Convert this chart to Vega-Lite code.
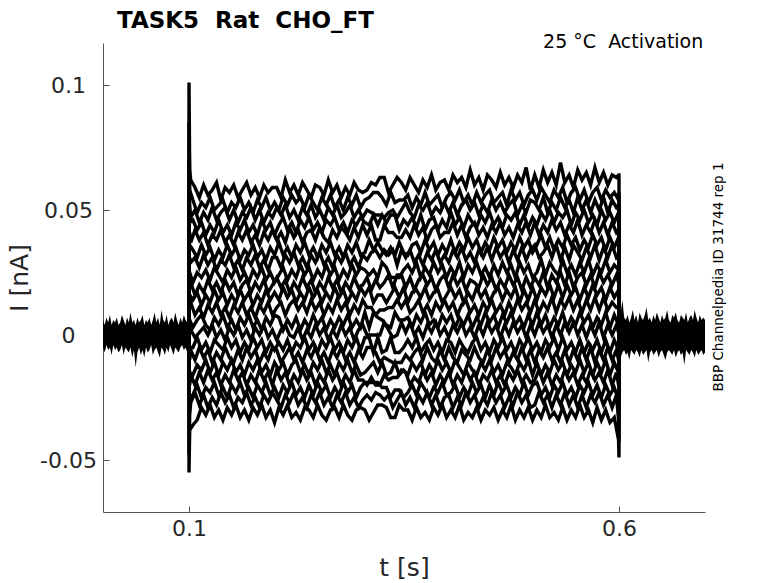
{
  "$schema": "https://vega.github.io/schema/vega-lite/v6.json",
  "width": 602,
  "height": 469,
  "autosize": {"type": "none"},
  "padding": {"left": 103, "top": 43, "right": 73, "bottom": 71},
  "background": "white",
  "config": {"view": {"stroke": null}, "font": "DejaVu Sans"},
  "title": {
    "text": "TASK5\u00a0 Rat\u00a0 CHO_FT",
    "anchor": "start",
    "frame": "group",
    "dx": 14,
    "dy": 24,
    "font": "DejaVu Sans",
    "fontSize": 23,
    "fontWeight": "bold",
    "color": "#000000",
    "baseline": "alphabetic",
    "offset": 6
  },
  "datasets": {
    "band": [
      {"seg":"pre","t":0,"hi":0.006,"lo":-0.005},
      {"seg":"pre","t":0.002,"hi":0.004,"lo":-0.007},
      {"seg":"pre","t":0.004,"hi":0.007,"lo":-0.004},
      {"seg":"pre","t":0.006,"hi":0.005,"lo":-0.006},
      {"seg":"pre","t":0.008,"hi":0.008,"lo":-0.005},
      {"seg":"pre","t":0.01,"hi":0.004,"lo":-0.008},
      {"seg":"pre","t":0.012,"hi":0.006,"lo":-0.004},
      {"seg":"pre","t":0.014,"hi":0.005,"lo":-0.006},
      {"seg":"pre","t":0.016,"hi":0.007,"lo":-0.005},
      {"seg":"pre","t":0.018,"hi":0.004,"lo":-0.007},
      {"seg":"pre","t":0.02,"hi":0.005,"lo":-0.006},
      {"seg":"pre","t":0.022,"hi":0.008,"lo":-0.004},
      {"seg":"pre","t":0.024,"hi":0.006,"lo":-0.008},
      {"seg":"pre","t":0.026,"hi":0.004,"lo":-0.005},
      {"seg":"pre","t":0.028,"hi":0.007,"lo":-0.006},
      {"seg":"pre","t":0.03,"hi":0.005,"lo":-0.007},
      {"seg":"pre","t":0.032,"hi":0.009,"lo":-0.005},
      {"seg":"pre","t":0.034,"hi":0.005,"lo":-0.009},
      {"seg":"pre","t":0.036,"hi":0.006,"lo":-0.006},
      {"seg":"pre","t":0.038,"hi":0.004,"lo":-0.013},
      {"seg":"pre","t":0.04,"hi":0.007,"lo":-0.007},
      {"seg":"pre","t":0.042,"hi":0.005,"lo":-0.005},
      {"seg":"pre","t":0.044,"hi":0.006,"lo":-0.008},
      {"seg":"pre","t":0.046,"hi":0.008,"lo":-0.006},
      {"seg":"pre","t":0.048,"hi":0.004,"lo":-0.009},
      {"seg":"pre","t":0.05,"hi":0.006,"lo":-0.005},
      {"seg":"pre","t":0.052,"hi":0.005,"lo":-0.007},
      {"seg":"pre","t":0.054,"hi":0.007,"lo":-0.006},
      {"seg":"pre","t":0.056,"hi":0.004,"lo":-0.004},
      {"seg":"pre","t":0.058,"hi":0.006,"lo":-0.008},
      {"seg":"pre","t":0.06,"hi":0.009,"lo":-0.006},
      {"seg":"pre","t":0.062,"hi":0.005,"lo":-0.005},
      {"seg":"pre","t":0.064,"hi":0.007,"lo":-0.007},
      {"seg":"pre","t":0.066,"hi":0.004,"lo":-0.009},
      {"seg":"pre","t":0.068,"hi":0.01,"lo":-0.005},
      {"seg":"pre","t":0.07,"hi":0.006,"lo":-0.006},
      {"seg":"pre","t":0.072,"hi":0.005,"lo":-0.008},
      {"seg":"pre","t":0.074,"hi":0.008,"lo":-0.005},
      {"seg":"pre","t":0.076,"hi":0.004,"lo":-0.007},
      {"seg":"pre","t":0.078,"hi":0.006,"lo":-0.004},
      {"seg":"pre","t":0.08,"hi":0.007,"lo":-0.006},
      {"seg":"pre","t":0.082,"hi":0.005,"lo":-0.008},
      {"seg":"pre","t":0.084,"hi":0.009,"lo":-0.005},
      {"seg":"pre","t":0.086,"hi":0.006,"lo":-0.006},
      {"seg":"pre","t":0.088,"hi":0.004,"lo":-0.007},
      {"seg":"pre","t":0.09,"hi":0.007,"lo":-0.005},
      {"seg":"pre","t":0.092,"hi":0.005,"lo":-0.004},
      {"seg":"pre","t":0.094,"hi":0.008,"lo":-0.006},
      {"seg":"pre","t":0.096,"hi":0.006,"lo":-0.005},
      {"seg":"pre","t":0.098,"hi":0.005,"lo":-0.007},
      {"seg":"pre","t":0.0998,"hi":0.006,"lo":-0.005},
      {"seg":"post","t":0.6004,"hi":0.005,"lo":-0.006},
      {"seg":"post","t":0.602,"hi":0.009,"lo":-0.009},
      {"seg":"post","t":0.604,"hi":0.014,"lo":-0.007},
      {"seg":"post","t":0.606,"hi":0.007,"lo":-0.006},
      {"seg":"post","t":0.608,"hi":0.006,"lo":-0.008},
      {"seg":"post","t":0.61,"hi":0.008,"lo":-0.007},
      {"seg":"post","t":0.612,"hi":0.005,"lo":-0.01},
      {"seg":"post","t":0.614,"hi":0.007,"lo":-0.006},
      {"seg":"post","t":0.616,"hi":0.01,"lo":-0.007},
      {"seg":"post","t":0.618,"hi":0.006,"lo":-0.008},
      {"seg":"post","t":0.62,"hi":0.008,"lo":-0.006},
      {"seg":"post","t":0.622,"hi":0.005,"lo":-0.007},
      {"seg":"post","t":0.624,"hi":0.009,"lo":-0.009},
      {"seg":"post","t":0.626,"hi":0.007,"lo":-0.006},
      {"seg":"post","t":0.628,"hi":0.006,"lo":-0.008},
      {"seg":"post","t":0.63,"hi":0.008,"lo":-0.007},
      {"seg":"post","t":0.632,"hi":0.011,"lo":-0.006},
      {"seg":"post","t":0.634,"hi":0.006,"lo":-0.011},
      {"seg":"post","t":0.636,"hi":0.007,"lo":-0.007},
      {"seg":"post","t":0.638,"hi":0.005,"lo":-0.006},
      {"seg":"post","t":0.64,"hi":0.008,"lo":-0.008},
      {"seg":"post","t":0.642,"hi":0.006,"lo":-0.007},
      {"seg":"post","t":0.644,"hi":0.009,"lo":-0.006},
      {"seg":"post","t":0.646,"hi":0.007,"lo":-0.009},
      {"seg":"post","t":0.648,"hi":0.005,"lo":-0.007},
      {"seg":"post","t":0.65,"hi":0.008,"lo":-0.006},
      {"seg":"post","t":0.652,"hi":0.006,"lo":-0.008},
      {"seg":"post","t":0.654,"hi":0.007,"lo":-0.01},
      {"seg":"post","t":0.656,"hi":0.01,"lo":-0.007},
      {"seg":"post","t":0.658,"hi":0.006,"lo":-0.006},
      {"seg":"post","t":0.66,"hi":0.005,"lo":-0.007},
      {"seg":"post","t":0.662,"hi":0.008,"lo":-0.008},
      {"seg":"post","t":0.664,"hi":0.007,"lo":-0.006},
      {"seg":"post","t":0.666,"hi":0.009,"lo":-0.009},
      {"seg":"post","t":0.668,"hi":0.006,"lo":-0.007},
      {"seg":"post","t":0.67,"hi":0.005,"lo":-0.006},
      {"seg":"post","t":0.672,"hi":0.008,"lo":-0.008},
      {"seg":"post","t":0.674,"hi":0.007,"lo":-0.007},
      {"seg":"post","t":0.676,"hi":0.006,"lo":-0.012},
      {"seg":"post","t":0.678,"hi":0.009,"lo":-0.006},
      {"seg":"post","t":0.68,"hi":0.005,"lo":-0.007},
      {"seg":"post","t":0.682,"hi":0.007,"lo":-0.008},
      {"seg":"post","t":0.684,"hi":0.008,"lo":-0.006},
      {"seg":"post","t":0.686,"hi":0.006,"lo":-0.007},
      {"seg":"post","t":0.688,"hi":0.01,"lo":-0.009},
      {"seg":"post","t":0.69,"hi":0.007,"lo":-0.006},
      {"seg":"post","t":0.692,"hi":0.005,"lo":-0.008},
      {"seg":"post","t":0.694,"hi":0.008,"lo":-0.007},
      {"seg":"post","t":0.696,"hi":0.006,"lo":-0.006},
      {"seg":"post","t":0.698,"hi":0.007,"lo":-0.008},
      {"seg":"post","t":0.7,"hi":0.006,"lo":-0.007}
    ],
    "even": [
      {"t":0.0998,"A":0.002,"C":0.003,"E":-0.002,"G":-0.003,"I":0,"K":0.003,"M":0.001,"O":-0.003,"Q":-0.001,"S":-0.002},
      {"t":0.1,"A":0.101,"C":0.07,"E":0.039,"G":0.029,"I":0.019,"K":0.01,"M":0.001,"O":-0.008,"Q":-0.017,"S":-0.048},
      {"t":0.1008,"A":0.066,"C":0.052,"E":0.041,"G":0.031,"I":0.02,"K":0.011,"M":0.001,"O":-0.01,"Q":-0.02,"S":-0.032},
      {"t":0.102,"A":0.062,"C":0.047,"E":0.037,"G":0.029,"I":0.021,"K":0.013,"M":0.002,"O":-0.006,"Q":-0.016,"S":-0.027},
      {"t":0.107,"A":0.059,"C":0.05,"E":0.042,"G":0.031,"I":0.016,"K":0.008,"M":-0.001,"O":-0.01,"Q":-0.02,"S":-0.023},
      {"t":0.112,"A":0.055,"C":0.045,"E":0.038,"G":0.027,"I":0.02,"K":0.011,"M":0.001,"O":-0.005,"Q":-0.015,"S":-0.028},
      {"t":0.117,"A":0.06,"C":0.049,"E":0.041,"G":0.032,"I":0.017,"K":0.007,"M":0.003,"O":-0.009,"Q":-0.019,"S":-0.024},
      {"t":0.122,"A":0.056,"C":0.046,"E":0.036,"G":0.028,"I":0.022,"K":0.012,"M":0,"O":-0.006,"Q":-0.014,"S":-0.029},
      {"t":0.127,"A":0.058,"C":0.051,"E":0.04,"G":0.031,"I":0.018,"K":0.009,"M":0.004,"O":-0.011,"Q":-0.018,"S":-0.025},
      {"t":0.132,"A":0.061,"C":0.046,"E":0.038,"G":0.026,"I":0.021,"K":0.013,"M":-0.001,"O":-0.007,"Q":-0.015,"S":-0.028},
      {"t":0.137,"A":0.054,"C":0.049,"E":0.042,"G":0.03,"I":0.017,"K":0.008,"M":0.002,"O":-0.01,"Q":-0.02,"S":-0.023},
      {"t":0.142,"A":0.059,"C":0.051,"E":0.037,"G":0.028,"I":0.022,"K":0.011,"M":-0.002,"O":-0.005,"Q":-0.016,"S":-0.027},
      {"t":0.147,"A":0.057,"C":0.046,"E":0.04,"G":0.032,"I":0.018,"K":0.007,"M":0.003,"O":-0.009,"Q":-0.019,"S":-0.024},
      {"t":0.152,"A":0.06,"C":0.05,"E":0.036,"G":0.027,"I":0.021,"K":0.012,"M":0,"O":-0.011,"Q":-0.014,"S":-0.029},
      {"t":0.157,"A":0.055,"C":0.045,"E":0.041,"G":0.03,"I":0.016,"K":0.009,"M":0.004,"O":-0.006,"Q":-0.018,"S":-0.025},
      {"t":0.162,"A":0.058,"C":0.049,"E":0.038,"G":0.026,"I":0.02,"K":0.013,"M":-0.001,"O":-0.01,"Q":-0.015,"S":-0.027},
      {"t":0.167,"A":0.061,"C":0.047,"E":0.042,"G":0.031,"I":0.022,"K":0.008,"M":0.002,"O":-0.005,"Q":-0.02,"S":-0.023},
      {"t":0.172,"A":0.056,"C":0.051,"E":0.037,"G":0.028,"I":0.017,"K":0.011,"M":-0.002,"O":-0.009,"Q":-0.016,"S":-0.028},
      {"t":0.177,"A":0.059,"C":0.046,"E":0.04,"G":0.032,"I":0.021,"K":0.007,"M":0.003,"O":-0.006,"Q":-0.019,"S":-0.025},
      {"t":0.182,"A":0.055,"C":0.05,"E":0.036,"G":0.027,"I":0.018,"K":0.012,"M":0,"O":-0.011,"Q":-0.014,"S":-0.029},
      {"t":0.187,"A":0.06,"C":0.045,"E":0.041,"G":0.03,"I":0.022,"K":0.009,"M":0.004,"O":-0.007,"Q":-0.018,"S":-0.024},
      {"t":0.192,"A":0.057,"C":0.049,"E":0.038,"G":0.026,"I":0.017,"K":0.013,"M":-0.001,"O":-0.01,"Q":-0.015,"S":-0.027},
      {"t":0.197,"A":0.059,"C":0.047,"E":0.042,"G":0.031,"I":0.02,"K":0.008,"M":0.002,"O":-0.005,"Q":-0.02,"S":-0.023},
      {"t":0.202,"A":0.059,"C":0.051,"E":0.038,"G":0.031,"I":0.023,"K":0.011,"M":-0.002,"O":-0.006,"Q":-0.014,"S":-0.026},
      {"t":0.207,"A":0.055,"C":0.048,"E":0.041,"G":0.027,"I":0.019,"K":0.013,"M":0.002,"O":-0.011,"Q":-0.018,"S":-0.029},
      {"t":0.212,"A":0.062,"C":0.052,"E":0.037,"G":0.032,"I":0.022,"K":0.008,"M":0.004,"O":-0.008,"Q":-0.015,"S":-0.024},
      {"t":0.217,"A":0.057,"C":0.047,"E":0.043,"G":0.029,"I":0.017,"K":0.012,"M":0,"O":-0.005,"Q":-0.02,"S":-0.027},
      {"t":0.222,"A":0.06,"C":0.05,"E":0.039,"G":0.033,"I":0.021,"K":0.014,"M":-0.001,"O":-0.01,"Q":-0.016,"S":-0.023},
      {"t":0.227,"A":0.056,"C":0.046,"E":0.042,"G":0.028,"I":0.018,"K":0.01,"M":0.003,"O":-0.007,"Q":-0.019,"S":-0.028},
      {"t":0.232,"A":0.061,"C":0.051,"E":0.037,"G":0.031,"I":0.023,"K":0.013,"M":-0.002,"O":-0.011,"Q":-0.014,"S":-0.025},
      {"t":0.237,"A":0.058,"C":0.048,"E":0.041,"G":0.027,"I":0.019,"K":0.009,"M":0.002,"O":-0.006,"Q":-0.018,"S":-0.029},
      {"t":0.242,"A":0.055,"C":0.052,"E":0.042,"G":0.032,"I":0.022,"K":0.014,"M":-0.001,"O":-0.009,"Q":-0.015,"S":-0.024},
      {"t":0.247,"A":0.06,"C":0.047,"E":0.038,"G":0.029,"I":0.017,"K":0.01,"M":0.004,"O":-0.005,"Q":-0.02,"S":-0.027},
      {"t":0.252,"A":0.059,"C":0.05,"E":0.043,"G":0.033,"I":0.021,"K":0.013,"M":0,"O":-0.01,"Q":-0.016,"S":-0.023},
      {"t":0.257,"A":0.056,"C":0.046,"E":0.039,"G":0.028,"I":0.018,"K":0.008,"M":0.003,"O":-0.007,"Q":-0.019,"S":-0.028},
      {"t":0.262,"A":0.062,"C":0.051,"E":0.037,"G":0.031,"I":0.023,"K":0.012,"M":-0.002,"O":-0.011,"Q":-0.014,"S":-0.025},
      {"t":0.267,"A":0.057,"C":0.048,"E":0.042,"G":0.027,"I":0.019,"K":0.009,"M":0.002,"O":-0.006,"Q":-0.018,"S":-0.029},
      {"t":0.272,"A":0.06,"C":0.052,"E":0.039,"G":0.032,"I":0.022,"K":0.014,"M":-0.001,"O":-0.009,"Q":-0.015,"S":-0.024},
      {"t":0.277,"A":0.055,"C":0.047,"E":0.043,"G":0.029,"I":0.017,"K":0.01,"M":0.004,"O":-0.005,"Q":-0.02,"S":-0.027},
      {"t":0.282,"A":0.059,"C":0.049,"E":0.041,"G":0.033,"I":0.021,"K":0.013,"M":0,"O":-0.01,"Q":-0.016,"S":-0.023},
      {"t":0.287,"A":0.056,"C":0.052,"E":0.038,"G":0.028,"I":0.018,"K":0.008,"M":0.003,"O":-0.007,"Q":-0.019,"S":-0.028},
      {"t":0.292,"A":0.061,"C":0.047,"E":0.043,"G":0.031,"I":0.023,"K":0.012,"M":-0.002,"O":-0.011,"Q":-0.014,"S":-0.025},
      {"t":0.297,"A":0.058,"C":0.05,"E":0.039,"G":0.027,"I":0.019,"K":0.009,"M":0.002,"O":-0.006,"Q":-0.018,"S":-0.029},
      {"t":0.302,"A":0.057,"C":0.047,"E":0.044,"G":0.032,"I":0.02,"K":0.014,"M":0.004,"O":-0.009,"Q":-0.018,"S":-0.026},
      {"t":0.307,"A":0.058,"C":0.05,"E":0.04,"G":0.03,"I":0.023,"K":0.011,"M":0,"O":-0.005,"Q":-0.02,"S":-0.024},
      {"t":0.312,"A":0.061,"C":0.049,"E":0.044,"G":0.033,"I":0.018,"K":0.011,"M":0,"O":-0.005,"Q":-0.017,"S":-0.026},
      {"t":0.317,"A":0.06,"C":0.048,"E":0.038,"G":0.034,"I":0.022,"K":0.008,"M":0,"O":-0.007,"Q":-0.02,"S":-0.023},
      {"t":0.322,"A":0.063,"C":0.048,"E":0.038,"G":0.031,"I":0.019,"K":0.01,"M":0,"O":-0.011,"Q":-0.02,"S":-0.024},
      {"t":0.327,"A":0.063,"C":0.047,"E":0.044,"G":0.034,"I":0.021,"K":0.01,"M":0.005,"O":-0.009,"Q":-0.016,"S":-0.026},
      {"t":0.332,"A":0.057,"C":0.049,"E":0.041,"G":0.032,"I":0.024,"K":0.011,"M":0.002,"O":-0.01,"Q":-0.018,"S":-0.024},
      {"t":0.337,"A":0.06,"C":0.05,"E":0.041,"G":0.034,"I":0.019,"K":0.011,"M":-0.001,"O":-0.011,"Q":-0.017,"S":-0.029},
      {"t":0.342,"A":0.063,"C":0.047,"E":0.039,"G":0.028,"I":0.024,"K":0.014,"M":0,"O":-0.011,"Q":-0.017,"S":-0.026},
      {"t":0.347,"A":0.061,"C":0.05,"E":0.039,"G":0.034,"I":0.024,"K":0.011,"M":0.005,"O":-0.011,"Q":-0.014,"S":-0.023},
      {"t":0.352,"A":0.058,"C":0.053,"E":0.042,"G":0.031,"I":0.019,"K":0.014,"M":0.001,"O":-0.008,"Q":-0.015,"S":-0.028},
      {"t":0.357,"A":0.063,"C":0.049,"E":0.039,"G":0.034,"I":0.023,"K":0.009,"M":0.005,"O":-0.01,"Q":-0.02,"S":-0.025},
      {"t":0.362,"A":0.06,"C":0.047,"E":0.044,"G":0.029,"I":0.018,"K":0.011,"M":0,"O":-0.007,"Q":-0.017,"S":-0.029},
      {"t":0.367,"A":0.057,"C":0.052,"E":0.04,"G":0.032,"I":0.022,"K":0.014,"M":0.003,"O":-0.005,"Q":-0.019,"S":-0.024},
      {"t":0.372,"A":0.062,"C":0.05,"E":0.043,"G":0.028,"I":0.024,"K":0.009,"M":-0.001,"O":-0.01,"Q":-0.014,"S":-0.027},
      {"t":0.377,"A":0.059,"C":0.053,"E":0.038,"G":0.033,"I":0.02,"K":0.012,"M":0.004,"O":-0.005,"Q":-0.018,"S":-0.023},
      {"t":0.382,"A":0.064,"C":0.048,"E":0.042,"G":0.03,"I":0.023,"K":0.008,"M":0.001,"O":-0.009,"Q":-0.015,"S":-0.028},
      {"t":0.387,"A":0.058,"C":0.051,"E":0.044,"G":0.034,"I":0.018,"K":0.013,"M":0.005,"O":-0.011,"Q":-0.02,"S":-0.024},
      {"t":0.392,"A":0.061,"C":0.049,"E":0.039,"G":0.029,"I":0.022,"K":0.01,"M":0,"O":-0.006,"Q":-0.016,"S":-0.029},
      {"t":0.397,"A":0.062,"C":0.053,"E":0.041,"G":0.032,"I":0.024,"K":0.014,"M":0.003,"O":-0.01,"Q":-0.019,"S":-0.025},
      {"t":0.402,"A":0.058,"C":0.049,"E":0.041,"G":0.029,"I":0.019,"K":0.01,"M":-0.001,"O":-0.005,"Q":-0.015,"S":-0.024},
      {"t":0.407,"A":0.064,"C":0.053,"E":0.045,"G":0.034,"I":0.024,"K":0.013,"M":0.004,"O":-0.009,"Q":-0.02,"S":-0.029},
      {"t":0.412,"A":0.061,"C":0.048,"E":0.04,"G":0.031,"I":0.02,"K":0.008,"M":0.001,"O":-0.011,"Q":-0.016,"S":-0.025},
      {"t":0.417,"A":0.063,"C":0.052,"E":0.044,"G":0.035,"I":0.023,"K":0.012,"M":0.005,"O":-0.006,"Q":-0.019,"S":-0.028},
      {"t":0.422,"A":0.059,"C":0.054,"E":0.039,"G":0.03,"I":0.018,"K":0.014,"M":0,"O":-0.008,"Q":-0.014,"S":-0.023},
      {"t":0.427,"A":0.066,"C":0.05,"E":0.043,"G":0.033,"I":0.022,"K":0.009,"M":0.003,"O":-0.01,"Q":-0.018,"S":-0.027},
      {"t":0.432,"A":0.06,"C":0.053,"E":0.045,"G":0.029,"I":0.021,"K":0.012,"M":-0.001,"O":-0.005,"Q":-0.015,"S":-0.024},
      {"t":0.437,"A":0.063,"C":0.048,"E":0.04,"G":0.034,"I":0.019,"K":0.008,"M":0.004,"O":-0.009,"Q":-0.02,"S":-0.029},
      {"t":0.442,"A":0.058,"C":0.052,"E":0.043,"G":0.031,"I":0.024,"K":0.013,"M":0,"O":-0.011,"Q":-0.016,"S":-0.025},
      {"t":0.447,"A":0.064,"C":0.049,"E":0.039,"G":0.035,"I":0.02,"K":0.01,"M":0.005,"O":-0.006,"Q":-0.018,"S":-0.028},
      {"t":0.452,"A":0.062,"C":0.054,"E":0.044,"G":0.03,"I":0.023,"K":0.014,"M":0.001,"O":-0.01,"Q":-0.014,"S":-0.023},
      {"t":0.457,"A":0.059,"C":0.05,"E":0.041,"G":0.035,"I":0.018,"K":0.009,"M":0.004,"O":-0.005,"Q":-0.019,"S":-0.027},
      {"t":0.462,"A":0.065,"C":0.053,"E":0.045,"G":0.031,"I":0.022,"K":0.012,"M":-0.001,"O":-0.009,"Q":-0.016,"S":-0.024},
      {"t":0.467,"A":0.06,"C":0.049,"E":0.04,"G":0.034,"I":0.019,"K":0.008,"M":0.004,"O":-0.006,"Q":-0.02,"S":-0.029},
      {"t":0.472,"A":0.063,"C":0.052,"E":0.043,"G":0.029,"I":0.024,"K":0.013,"M":0,"O":-0.011,"Q":-0.015,"S":-0.025},
      {"t":0.477,"A":0.059,"C":0.054,"E":0.039,"G":0.034,"I":0.02,"K":0.009,"M":0.005,"O":-0.007,"Q":-0.018,"S":-0.028},
      {"t":0.482,"A":0.064,"C":0.048,"E":0.044,"G":0.03,"I":0.023,"K":0.014,"M":0.001,"O":-0.01,"Q":-0.014,"S":-0.023},
      {"t":0.487,"A":0.061,"C":0.052,"E":0.041,"G":0.035,"I":0.018,"K":0.01,"M":0.004,"O":-0.005,"Q":-0.019,"S":-0.027},
      {"t":0.492,"A":0.067,"C":0.049,"E":0.045,"G":0.03,"I":0.023,"K":0.013,"M":-0.001,"O":-0.01,"Q":-0.016,"S":-0.024},
      {"t":0.497,"A":0.058,"C":0.054,"E":0.04,"G":0.034,"I":0.019,"K":0.009,"M":0.004,"O":-0.006,"Q":-0.019,"S":-0.029},
      {"t":0.502,"A":0.064,"C":0.053,"E":0.045,"G":0.036,"I":0.023,"K":0.014,"M":0,"O":-0.011,"Q":-0.018,"S":-0.028},
      {"t":0.507,"A":0.059,"C":0.05,"E":0.04,"G":0.031,"I":0.02,"K":0.009,"M":0.005,"O":-0.006,"Q":-0.014,"S":-0.023},
      {"t":0.512,"A":0.066,"C":0.055,"E":0.044,"G":0.033,"I":0.025,"K":0.013,"M":0.001,"O":-0.009,"Q":-0.019,"S":-0.027},
      {"t":0.517,"A":0.061,"C":0.049,"E":0.041,"G":0.036,"I":0.019,"K":0.01,"M":0.004,"O":-0.005,"Q":-0.015,"S":-0.024},
      {"t":0.522,"A":0.065,"C":0.053,"E":0.046,"G":0.031,"I":0.024,"K":0.015,"M":-0.001,"O":-0.01,"Q":-0.02,"S":-0.029},
      {"t":0.527,"A":0.06,"C":0.05,"E":0.042,"G":0.036,"I":0.021,"K":0.009,"M":0.004,"O":-0.007,"Q":-0.016,"S":-0.024},
      {"t":0.532,"A":0.069,"C":0.055,"E":0.045,"G":0.03,"I":0.025,"K":0.014,"M":0,"O":-0.011,"Q":-0.019,"S":-0.028},
      {"t":0.537,"A":0.061,"C":0.051,"E":0.04,"G":0.035,"I":0.02,"K":0.011,"M":0.005,"O":-0.006,"Q":-0.014,"S":-0.023},
      {"t":0.542,"A":0.064,"C":0.054,"E":0.044,"G":0.03,"I":0.025,"K":0.015,"M":0.001,"O":-0.011,"Q":-0.018,"S":-0.028},
      {"t":0.547,"A":0.059,"C":0.049,"E":0.041,"G":0.036,"I":0.019,"K":0.01,"M":0.005,"O":-0.006,"Q":-0.015,"S":-0.024},
      {"t":0.552,"A":0.066,"C":0.055,"E":0.046,"G":0.033,"I":0.023,"K":0.014,"M":0,"O":-0.01,"Q":-0.02,"S":-0.029},
      {"t":0.557,"A":0.062,"C":0.05,"E":0.04,"G":0.03,"I":0.025,"K":0.009,"M":0.004,"O":-0.005,"Q":-0.016,"S":-0.024},
      {"t":0.562,"A":0.065,"C":0.054,"E":0.044,"G":0.035,"I":0.02,"K":0.014,"M":-0.001,"O":-0.01,"Q":-0.019,"S":-0.029},
      {"t":0.567,"A":0.06,"C":0.049,"E":0.041,"G":0.031,"I":0.024,"K":0.01,"M":0.004,"O":-0.005,"Q":-0.014,"S":-0.024},
      {"t":0.572,"A":0.067,"C":0.054,"E":0.046,"G":0.036,"I":0.019,"K":0.015,"M":0,"O":-0.011,"Q":-0.018,"S":-0.027},
      {"t":0.577,"A":0.061,"C":0.05,"E":0.041,"G":0.03,"I":0.025,"K":0.01,"M":0.005,"O":-0.006,"Q":-0.015,"S":-0.023},
      {"t":0.582,"A":0.065,"C":0.055,"E":0.045,"G":0.035,"I":0.021,"K":0.015,"M":-0.001,"O":-0.01,"Q":-0.019,"S":-0.028},
      {"t":0.587,"A":0.06,"C":0.049,"E":0.04,"G":0.031,"I":0.024,"K":0.01,"M":0.004,"O":-0.005,"Q":-0.014,"S":-0.024},
      {"t":0.592,"A":0.064,"C":0.054,"E":0.045,"G":0.036,"I":0.02,"K":0.013,"M":0,"O":-0.01,"Q":-0.02,"S":-0.029},
      {"t":0.597,"A":0.063,"C":0.051,"E":0.041,"G":0.031,"I":0.024,"K":0.011,"M":0.004,"O":-0.006,"Q":-0.015,"S":-0.024},
      {"t":0.5995,"A":0.064,"C":0.052,"E":0.042,"G":0.032,"I":0.021,"K":0.011,"M":0.001,"O":-0.01,"Q":-0.02,"S":-0.034},
      {"t":0.6,"A":0.064,"C":0.052,"E":0.042,"G":0.032,"I":0.021,"K":0.011,"M":0.001,"O":-0.01,"Q":-0.02,"S":-0.043},
      {"t":0.6003,"A":-0.001,"C":0,"E":0.001,"G":-0.002,"I":0.002,"K":0.001,"M":0.002,"O":-0.002,"Q":-0.001,"S":-0.002}
    ],
    "odd": [
      {"t":0.0998,"B":-0.001,"D":0,"F":0.001,"H":0.002,"J":-0.001,"L":-0.002,"N":0,"P":0.002,"R":0.001,"T":0},
      {"t":0.1,"B":0.085,"D":0.043,"F":0.033,"H":0.024,"J":0.015,"L":0.005,"N":-0.004,"P":-0.013,"R":-0.022,"T":-0.055},
      {"t":0.1008,"B":0.058,"D":0.045,"F":0.036,"H":0.025,"J":0.016,"L":0.006,"N":-0.005,"P":-0.015,"R":-0.025,"T":-0.038},
      {"t":0.1045,"B":0.054,"D":0.046,"F":0.034,"H":0.021,"J":0.014,"L":0.003,"N":-0.005,"P":-0.016,"R":-0.024,"T":-0.036},
      {"t":0.1095,"B":0.049,"D":0.042,"F":0.031,"H":0.025,"J":0.017,"L":0.006,"N":-0.001,"P":-0.012,"R":-0.02,"T":-0.034},
      {"t":0.1145,"B":0.053,"D":0.045,"F":0.036,"H":0.023,"J":0.012,"L":0.008,"N":-0.006,"P":-0.014,"R":-0.025,"T":-0.029},
      {"t":0.1195,"B":0.051,"D":0.04,"F":0.032,"H":0.026,"J":0.016,"L":0.004,"N":-0.003,"P":-0.01,"R":-0.021,"T":-0.032},
      {"t":0.1245,"B":0.055,"D":0.044,"F":0.035,"H":0.022,"J":0.013,"L":0.002,"N":-0.007,"P":-0.015,"R":-0.023,"T":-0.028},
      {"t":0.1295,"B":0.05,"D":0.041,"F":0.03,"H":0.027,"J":0.018,"L":0.007,"N":-0.002,"P":-0.011,"R":-0.019,"T":-0.033},
      {"t":0.1345,"B":0.052,"D":0.046,"F":0.034,"H":0.024,"J":0.014,"L":0.004,"N":-0.004,"P":-0.016,"R":-0.024,"T":-0.03},
      {"t":0.1395,"B":0.054,"D":0.041,"F":0.031,"H":0.021,"J":0.017,"L":0.008,"N":-0.006,"P":-0.011,"R":-0.021,"T":-0.034},
      {"t":0.1445,"B":0.049,"D":0.044,"F":0.036,"H":0.026,"J":0.012,"L":0.003,"N":-0.001,"P":-0.014,"R":-0.025,"T":-0.029},
      {"t":0.1495,"B":0.053,"D":0.04,"F":0.032,"H":0.023,"J":0.016,"L":0.006,"N":-0.005,"P":-0.01,"R":-0.02,"T":-0.032},
      {"t":0.1545,"B":0.051,"D":0.045,"F":0.035,"H":0.027,"J":0.013,"L":0.002,"N":-0.002,"P":-0.015,"R":-0.023,"T":-0.028},
      {"t":0.1595,"B":0.055,"D":0.042,"F":0.03,"H":0.022,"J":0.018,"L":0.007,"N":-0.007,"P":-0.012,"R":-0.019,"T":-0.033},
      {"t":0.1645,"B":0.05,"D":0.046,"F":0.034,"H":0.025,"J":0.014,"L":0.004,"N":-0.003,"P":-0.016,"R":-0.024,"T":-0.03},
      {"t":0.1695,"B":0.053,"D":0.041,"F":0.032,"H":0.021,"J":0.017,"L":0.008,"N":-0.006,"P":-0.011,"R":-0.021,"T":-0.034},
      {"t":0.1745,"B":0.049,"D":0.044,"F":0.036,"H":0.026,"J":0.012,"L":0.003,"N":-0.001,"P":-0.014,"R":-0.025,"T":-0.029},
      {"t":0.1795,"B":0.054,"D":0.04,"F":0.031,"H":0.023,"J":0.016,"L":0.006,"N":-0.005,"P":-0.01,"R":-0.02,"T":-0.032},
      {"t":0.1845,"B":0.051,"D":0.046,"F":0.034,"H":0.027,"J":0.013,"L":0.002,"N":-0.002,"P":-0.015,"R":-0.023,"T":-0.028},
      {"t":0.1895,"B":0.055,"D":0.042,"F":0.03,"H":0.022,"J":0.018,"L":0.007,"N":-0.007,"P":-0.012,"R":-0.019,"T":-0.033},
      {"t":0.1945,"B":0.05,"D":0.045,"F":0.035,"H":0.025,"J":0.014,"L":0.004,"N":-0.003,"P":-0.016,"R":-0.024,"T":-0.03},
      {"t":0.1995,"B":0.053,"D":0.04,"F":0.032,"H":0.021,"J":0.017,"L":0.008,"N":-0.006,"P":-0.011,"R":-0.021,"T":-0.035},
      {"t":0.2045,"B":0.05,"D":0.044,"F":0.037,"H":0.024,"J":0.014,"L":0.007,"N":-0.003,"P":-0.014,"R":-0.025,"T":-0.029},
      {"t":0.2095,"B":0.055,"D":0.047,"F":0.032,"H":0.027,"J":0.019,"L":0.002,"N":-0.006,"P":-0.011,"R":-0.02,"T":-0.032},
      {"t":0.2145,"B":0.052,"D":0.042,"F":0.035,"H":0.022,"J":0.015,"L":0.006,"N":-0.002,"P":-0.016,"R":-0.023,"T":-0.028},
      {"t":0.2195,"B":0.056,"D":0.045,"F":0.031,"H":0.026,"J":0.018,"L":0.003,"N":-0.007,"P":-0.012,"R":-0.019,"T":-0.033},
      {"t":0.2245,"B":0.053,"D":0.041,"F":0.036,"H":0.023,"J":0.013,"L":0.007,"N":-0.003,"P":-0.01,"R":-0.024,"T":-0.031},
      {"t":0.2295,"B":0.055,"D":0.046,"F":0.033,"H":0.028,"J":0.017,"L":0.002,"N":-0.005,"P":-0.015,"R":-0.021,"T":-0.034},
      {"t":0.2345,"B":0.051,"D":0.043,"F":0.037,"H":0.024,"J":0.014,"L":0.006,"N":-0.001,"P":-0.012,"R":-0.025,"T":-0.029},
      {"t":0.2395,"B":0.056,"D":0.047,"F":0.032,"H":0.027,"J":0.019,"L":0.003,"N":-0.006,"P":-0.016,"R":-0.02,"T":-0.03},
      {"t":0.2445,"B":0.053,"D":0.042,"F":0.035,"H":0.022,"J":0.015,"L":0.008,"N":-0.003,"P":-0.011,"R":-0.024,"T":-0.033},
      {"t":0.2495,"B":0.05,"D":0.045,"F":0.031,"H":0.026,"J":0.018,"L":0.004,"N":-0.007,"P":-0.014,"R":-0.019,"T":-0.028},
      {"t":0.2545,"B":0.055,"D":0.041,"F":0.036,"H":0.023,"J":0.013,"L":0.007,"N":-0.002,"P":-0.01,"R":-0.023,"T":-0.032},
      {"t":0.2595,"B":0.052,"D":0.046,"F":0.033,"H":0.028,"J":0.017,"L":0.002,"N":-0.005,"P":-0.015,"R":-0.02,"T":-0.034},
      {"t":0.2645,"B":0.056,"D":0.044,"F":0.037,"H":0.024,"J":0.014,"L":0.006,"N":-0.001,"P":-0.012,"R":-0.025,"T":-0.03},
      {"t":0.2695,"B":0.051,"D":0.047,"F":0.032,"H":0.027,"J":0.019,"L":0.003,"N":-0.006,"P":-0.016,"R":-0.021,"T":-0.029},
      {"t":0.2745,"B":0.054,"D":0.042,"F":0.035,"H":0.022,"J":0.015,"L":0.007,"N":-0.003,"P":-0.011,"R":-0.024,"T":-0.033},
      {"t":0.2795,"B":0.05,"D":0.045,"F":0.031,"H":0.026,"J":0.018,"L":0.004,"N":-0.007,"P":-0.014,"R":-0.019,"T":-0.028},
      {"t":0.2845,"B":0.055,"D":0.041,"F":0.036,"H":0.023,"J":0.013,"L":0.008,"N":-0.002,"P":-0.01,"R":-0.023,"T":-0.032},
      {"t":0.2895,"B":0.052,"D":0.046,"F":0.033,"H":0.028,"J":0.017,"L":0.003,"N":-0.005,"P":-0.015,"R":-0.02,"T":-0.034},
      {"t":0.2945,"B":0.056,"D":0.044,"F":0.037,"H":0.024,"J":0.014,"L":0.006,"N":-0.001,"P":-0.012,"R":-0.025,"T":-0.03},
      {"t":0.2995,"B":0.051,"D":0.047,"F":0.032,"H":0.027,"J":0.019,"L":0.003,"N":-0.006,"P":-0.016,"R":-0.021,"T":-0.029},
      {"t":0.3045,"B":0.054,"D":0.045,"F":0.033,"H":0.026,"J":0.016,"L":0.009,"N":-0.001,"P":-0.015,"R":-0.019,"T":-0.03},
      {"t":0.3095,"B":0.055,"D":0.044,"F":0.038,"H":0.024,"J":0.019,"L":0.003,"N":-0.001,"P":-0.013,"R":-0.019,"T":-0.034},
      {"t":0.3145,"B":0.057,"D":0.048,"F":0.034,"H":0.026,"J":0.013,"L":0.009,"N":-0.007,"P":-0.011,"R":-0.019,"T":-0.031},
      {"t":0.3195,"B":0.057,"D":0.044,"F":0.037,"H":0.023,"J":0.016,"L":0.007,"N":-0.001,"P":-0.015,"R":-0.019,"T":-0.028},
      {"t":0.3245,"B":0.055,"D":0.048,"F":0.034,"H":0.029,"J":0.016,"L":0.006,"N":-0.007,"P":-0.011,"R":-0.021,"T":-0.028},
      {"t":0.3295,"B":0.052,"D":0.045,"F":0.032,"H":0.027,"J":0.013,"L":0.004,"N":-0.006,"P":-0.016,"R":-0.021,"T":-0.029},
      {"t":0.3345,"B":0.057,"D":0.048,"F":0.035,"H":0.023,"J":0.016,"L":0.003,"N":-0.001,"P":-0.015,"R":-0.025,"T":-0.033},
      {"t":0.3395,"B":0.053,"D":0.048,"F":0.032,"H":0.023,"J":0.019,"L":0.009,"N":-0.007,"P":-0.011,"R":-0.022,"T":-0.033},
      {"t":0.3445,"B":0.054,"D":0.042,"F":0.037,"H":0.023,"J":0.015,"L":0.006,"N":-0.007,"P":-0.016,"R":-0.022,"T":-0.028},
      {"t":0.3495,"B":0.054,"D":0.046,"F":0.033,"H":0.026,"J":0.019,"L":0.006,"N":-0.005,"P":-0.014,"R":-0.025,"T":-0.03},
      {"t":0.3545,"B":0.056,"D":0.044,"F":0.032,"H":0.028,"J":0.013,"L":0.007,"N":-0.002,"P":-0.016,"R":-0.023,"T":-0.03},
      {"t":0.3595,"B":0.051,"D":0.047,"F":0.036,"H":0.025,"J":0.017,"L":0.003,"N":-0.005,"P":-0.011,"R":-0.02,"T":-0.034},
      {"t":0.3645,"B":0.055,"D":0.043,"F":0.037,"H":0.029,"J":0.018,"L":0.008,"N":-0.001,"P":-0.014,"R":-0.024,"T":-0.029},
      {"t":0.3695,"B":0.052,"D":0.048,"F":0.033,"H":0.023,"J":0.015,"L":0.005,"N":-0.007,"P":-0.011,"R":-0.019,"T":-0.033},
      {"t":0.3745,"B":0.057,"D":0.042,"F":0.038,"H":0.027,"J":0.019,"L":0.009,"N":-0.004,"P":-0.016,"R":-0.022,"T":-0.031},
      {"t":0.3795,"B":0.052,"D":0.046,"F":0.034,"H":0.024,"J":0.014,"L":0.004,"N":-0.002,"P":-0.012,"R":-0.025,"T":-0.034},
      {"t":0.3845,"B":0.054,"D":0.047,"F":0.037,"H":0.029,"J":0.017,"L":0.006,"N":-0.006,"P":-0.015,"R":-0.021,"T":-0.029},
      {"t":0.3895,"B":0.056,"D":0.042,"F":0.032,"H":0.025,"J":0.018,"L":0.003,"N":-0.003,"P":-0.01,"R":-0.023,"T":-0.032},
      {"t":0.3945,"B":0.051,"D":0.046,"F":0.036,"H":0.028,"J":0.013,"L":0.008,"N":-0.007,"P":-0.014,"R":-0.019,"T":-0.028},
      {"t":0.3995,"B":0.055,"D":0.043,"F":0.033,"H":0.023,"J":0.016,"L":0.005,"N":-0.002,"P":-0.011,"R":-0.024,"T":-0.033},
      {"t":0.4045,"B":0.057,"D":0.049,"F":0.038,"H":0.027,"J":0.019,"L":0.008,"N":-0.003,"P":-0.015,"R":-0.023,"T":-0.03},
      {"t":0.4095,"B":0.054,"D":0.044,"F":0.033,"H":0.024,"J":0.015,"L":0.003,"N":-0.007,"P":-0.01,"R":-0.02,"T":-0.033},
      {"t":0.4145,"B":0.058,"D":0.047,"F":0.037,"H":0.029,"J":0.018,"L":0.007,"N":-0.002,"P":-0.013,"R":-0.025,"T":-0.028},
      {"t":0.4195,"B":0.053,"D":0.043,"F":0.034,"H":0.023,"J":0.013,"L":0.004,"N":-0.005,"P":-0.016,"R":-0.021,"T":-0.034},
      {"t":0.4245,"B":0.056,"D":0.048,"F":0.039,"H":0.028,"J":0.017,"L":0.008,"N":-0.007,"P":-0.011,"R":-0.024,"T":-0.031},
      {"t":0.4295,"B":0.052,"D":0.045,"F":0.035,"H":0.025,"J":0.014,"L":0.003,"N":-0.003,"P":-0.014,"R":-0.019,"T":-0.033},
      {"t":0.4345,"B":0.057,"D":0.043,"F":0.038,"H":0.029,"J":0.019,"L":0.007,"N":-0.001,"P":-0.016,"R":-0.023,"T":-0.029},
      {"t":0.4395,"B":0.053,"D":0.048,"F":0.033,"H":0.024,"J":0.015,"L":0.004,"N":-0.006,"P":-0.011,"R":-0.02,"T":-0.034},
      {"t":0.4445,"B":0.056,"D":0.045,"F":0.037,"H":0.027,"J":0.018,"L":0.009,"N":-0.003,"P":-0.014,"R":-0.025,"T":-0.03},
      {"t":0.4495,"B":0.058,"D":0.049,"F":0.034,"H":0.023,"J":0.013,"L":0.005,"N":-0.007,"P":-0.01,"R":-0.02,"T":-0.032},
      {"t":0.4545,"B":0.053,"D":0.044,"F":0.039,"H":0.028,"J":0.017,"L":0.008,"N":-0.002,"P":-0.015,"R":-0.024,"T":-0.029},
      {"t":0.4595,"B":0.055,"D":0.047,"F":0.035,"H":0.024,"J":0.019,"L":0.003,"N":-0.005,"P":-0.012,"R":-0.019,"T":-0.034},
      {"t":0.4645,"B":0.057,"D":0.043,"F":0.038,"H":0.029,"J":0.014,"L":0.008,"N":-0.001,"P":-0.016,"R":-0.023,"T":-0.03},
      {"t":0.4695,"B":0.052,"D":0.048,"F":0.033,"H":0.025,"J":0.018,"L":0.005,"N":-0.006,"P":-0.011,"R":-0.02,"T":-0.033},
      {"t":0.4745,"B":0.058,"D":0.046,"F":0.037,"H":0.028,"J":0.015,"L":0.009,"N":-0.003,"P":-0.013,"R":-0.025,"T":-0.028},
      {"t":0.4795,"B":0.054,"D":0.049,"F":0.034,"H":0.023,"J":0.019,"L":0.004,"N":-0.007,"P":-0.016,"R":-0.021,"T":-0.034},
      {"t":0.4845,"B":0.057,"D":0.044,"F":0.039,"H":0.029,"J":0.013,"L":0.007,"N":-0.002,"P":-0.011,"R":-0.024,"T":-0.03},
      {"t":0.4895,"B":0.052,"D":0.048,"F":0.035,"H":0.025,"J":0.018,"L":0.003,"N":-0.005,"P":-0.014,"R":-0.019,"T":-0.033},
      {"t":0.4945,"B":0.056,"D":0.043,"F":0.038,"H":0.028,"J":0.014,"L":0.008,"N":-0.001,"P":-0.01,"R":-0.024,"T":-0.029},
      {"t":0.4995,"B":0.058,"D":0.047,"F":0.033,"H":0.023,"J":0.019,"L":0.004,"N":-0.006,"P":-0.016,"R":-0.02,"T":-0.034},
      {"t":0.5045,"B":0.054,"D":0.044,"F":0.036,"H":0.025,"J":0.014,"L":0.009,"N":-0.003,"P":-0.011,"R":-0.019,"T":-0.03},
      {"t":0.5095,"B":0.059,"D":0.049,"F":0.04,"H":0.03,"J":0.019,"L":0.004,"N":-0.007,"P":-0.016,"R":-0.024,"T":-0.033},
      {"t":0.5145,"B":0.056,"D":0.046,"F":0.035,"H":0.024,"J":0.016,"L":0.008,"N":-0.002,"P":-0.012,"R":-0.021,"T":-0.028},
      {"t":0.5195,"B":0.053,"D":0.05,"F":0.039,"H":0.029,"J":0.02,"L":0.003,"N":-0.005,"P":-0.015,"R":-0.025,"T":-0.033},
      {"t":0.5245,"B":0.058,"D":0.045,"F":0.034,"H":0.026,"J":0.015,"L":0.007,"N":-0.001,"P":-0.01,"R":-0.02,"T":-0.031},
      {"t":0.5295,"B":0.055,"D":0.049,"F":0.038,"H":0.024,"J":0.02,"L":0.004,"N":-0.006,"P":-0.014,"R":-0.023,"T":-0.034},
      {"t":0.5345,"B":0.059,"D":0.047,"F":0.035,"H":0.03,"J":0.015,"L":0.009,"N":-0.001,"P":-0.011,"R":-0.019,"T":-0.029},
      {"t":0.5395,"B":0.053,"D":0.05,"F":0.04,"H":0.025,"J":0.02,"L":0.003,"N":-0.006,"P":-0.016,"R":-0.024,"T":-0.034},
      {"t":0.5445,"B":0.057,"D":0.044,"F":0.036,"H":0.028,"J":0.016,"L":0.007,"N":-0.003,"P":-0.012,"R":-0.021,"T":-0.03},
      {"t":0.5495,"B":0.059,"D":0.049,"F":0.039,"H":0.024,"J":0.019,"L":0.004,"N":-0.007,"P":-0.015,"R":-0.025,"T":-0.033},
      {"t":0.5545,"B":0.054,"D":0.046,"F":0.034,"H":0.029,"J":0.014,"L":0.009,"N":-0.002,"P":-0.01,"R":-0.02,"T":-0.028},
      {"t":0.5595,"B":0.058,"D":0.05,"F":0.038,"H":0.025,"J":0.019,"L":0.005,"N":-0.007,"P":-0.015,"R":-0.023,"T":-0.033},
      {"t":0.5645,"B":0.053,"D":0.045,"F":0.035,"H":0.03,"J":0.015,"L":0.008,"N":-0.003,"P":-0.011,"R":-0.019,"T":-0.03},
      {"t":0.5695,"B":0.057,"D":0.048,"F":0.04,"H":0.024,"J":0.02,"L":0.003,"N":-0.006,"P":-0.016,"R":-0.024,"T":-0.035},
      {"t":0.5745,"B":0.059,"D":0.044,"F":0.036,"H":0.028,"J":0.016,"L":0.007,"N":-0.002,"P":-0.011,"R":-0.02,"T":-0.029},
      {"t":0.5795,"B":0.054,"D":0.05,"F":0.039,"H":0.025,"J":0.019,"L":0.004,"N":-0.007,"P":-0.015,"R":-0.025,"T":-0.034},
      {"t":0.5845,"B":0.058,"D":0.046,"F":0.034,"H":0.03,"J":0.014,"L":0.009,"N":-0.002,"P":-0.01,"R":-0.02,"T":-0.03},
      {"t":0.5895,"B":0.055,"D":0.049,"F":0.039,"H":0.025,"J":0.019,"L":0.003,"N":-0.007,"P":-0.016,"R":-0.024,"T":-0.035},
      {"t":0.5945,"B":0.057,"D":0.045,"F":0.035,"H":0.028,"J":0.015,"L":0.008,"N":-0.002,"P":-0.011,"R":-0.021,"T":-0.033},
      {"t":0.5995,"B":0.054,"D":0.049,"F":0.039,"H":0.026,"J":0.018,"L":0.004,"N":-0.006,"P":-0.015,"R":-0.026,"T":-0.042},
      {"t":0.6,"B":0.057,"D":0.046,"F":0.036,"H":0.026,"J":0.016,"L":0.005,"N":-0.006,"P":-0.015,"R":-0.03,"T":-0.049},
      {"t":0.6003,"B":0.002,"D":-0.003,"F":0.003,"H":0,"J":-0.001,"L":-0.003,"N":0,"P":0.003,"R":0.001,"T":0.002}
    ]
  },
  "layer": [
    {
      "data": {"name": "band"},
      "mark": {"type": "area", "color": "#000000", "interpolate": "linear"},
      "encoding": {
        "x": {
          "field": "t",
          "type": "quantitative",
          "scale": {"domain": [0, 0.7], "nice": false, "zero": false},
          "axis": {
            "values": [0.1, 0.6],
            "labelExpr": "'' + datum.value",
            "grid": false,
            "tickSize": -6,
            "tickColor": "#555555",
            "domainColor": "#555555",
            "labelFontSize": 22,
            "labelColor": "#262626",
            "labelPadding": 12,
            "title": "t [s]",
            "titleFontSize": 25,
            "titleFontWeight": "normal",
            "titleColor": "#262626",
            "titleBaseline": "alphabetic",
            "titleY": 63
          }
        },
        "y": {
          "field": "hi",
          "type": "quantitative",
          "scale": {"domain": [-0.0708, 0.1168], "nice": false, "zero": false},
          "axis": {
            "values": [0.1, 0.05, 0, -0.05],
            "labelExpr": "'' + datum.value",
            "grid": false,
            "tickSize": -6,
            "tickColor": "#555555",
            "domainColor": "#555555",
            "labelFontSize": 22,
            "labelColor": "#262626",
            "labelAlign": "center",
            "labelBaseline": "middle",
            "labelPadding": 41,
            "title": "I [nA]",
            "titleFontSize": 25,
            "titleFontWeight": "normal",
            "titleColor": "#262626",
            "titleAngle": 270,
            "titleAlign": "center",
            "titleBaseline": "alphabetic",
            "titleX": -76,
            "titleY": 234.5
          }
        },
        "y2": {"field": "lo"},
        "detail": {"field": "seg", "type": "nominal"}
      }
    },
    {
      "data": {"name": "even"},
      "transform": [
        {"fold": ["A","C","E","G","I","K","M","O","Q","S"], "as": ["trace", "current"]}
      ],
      "mark": {"type": "line", "color": "#000000", "strokeWidth": 3.4, "interpolate": "linear"},
      "encoding": {
        "x": {"field": "t", "type": "quantitative"},
        "y": {"field": "current", "type": "quantitative"},
        "detail": {"field": "trace", "type": "nominal"}
      }
    },
    {
      "data": {"name": "odd"},
      "transform": [
        {"fold": ["B","D","F","H","J","L","N","P","R","T"], "as": ["trace", "current"]}
      ],
      "mark": {"type": "line", "color": "#000000", "strokeWidth": 3.4, "interpolate": "linear"},
      "encoding": {
        "x": {"field": "t", "type": "quantitative"},
        "y": {"field": "current", "type": "quantitative"},
        "detail": {"field": "trace", "type": "nominal"}
      }
    },
    {
      "data": {"values": [{"label": "25 °C\u00a0 Activation"}]},
      "mark": {"type": "text", "align": "right", "baseline": "alphabetic", "fontSize": 19, "font": "DejaVu Sans", "color": "#000000"},
      "encoding": {
        "x": {"datum": 0.698},
        "y": {"datum": 0.1148},
        "text": {"field": "label"}
      }
    },
    {
      "data": {"values": [{"label": "BBP Channelpedia ID 31744 rep 1"}]},
      "mark": {"type": "text", "align": "center", "baseline": "alphabetic", "angle": 270, "fontSize": 13.5, "font": "DejaVu Sans", "color": "#000000"},
      "encoding": {
        "x": {"datum": 0.721},
        "y": {"datum": 0.0232},
        "text": {"field": "label"}
      }
    }
  ]
}
